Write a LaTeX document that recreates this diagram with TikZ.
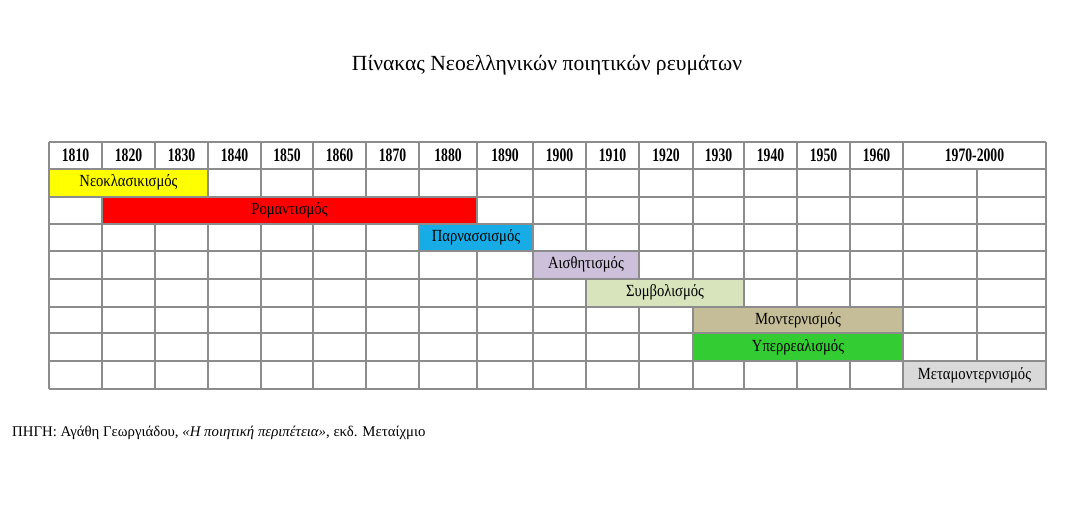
\documentclass[tikz,border=0pt]{standalone}
\usepackage{fontspec}
\setmainfont{Liberation Serif}
\newfontfamily\headfont[FakeStretch=0.72]{Liberation Serif}
\newfontfamily\barfont[FakeStretch=0.86]{Liberation Serif}
\definecolor{gridgrey}{HTML}{8C8C8C}
\definecolor{neoyellow}{HTML}{FFFF00}
\definecolor{romred}{HTML}{FF0000}
\definecolor{parblue}{HTML}{18ACE6}
\definecolor{aislav}{HTML}{CCC0DA}
\definecolor{symgreen}{HTML}{D8E4BC}
\definecolor{modtan}{HTML}{C4BD97}
\definecolor{surgreen}{HTML}{33CC33}
\definecolor{metagrey}{HTML}{D9D9D9}
\newcommand{\movement}[7]{%
  \node[bar, fill=#6, minimum width={(#3-#2)*1pt}, minimum height={(#5-#4)*1pt}]
    (#1) at ({(#2+#3)/2},{(#4+#5)/2}) {#7};}
\begin{document}
\begin{tikzpicture}[x=1pt, y=-1pt,
    gridline/.style={draw=gridgrey, line width=1.3pt},
    year/.style={font=\headfont\bfseries\fontsize{19}{22}\selectfont, inner sep=0pt},
    bar/.style={draw=gridgrey, line width=1.3pt, inner sep=0pt,
        text height=12pt, text depth=4pt, font=\barfont\fontsize{17}{20}\selectfont}
]
\useasboundingbox (0,0) rectangle (1078,510);
\node[font=\fontsize{21.6}{25}\selectfont, anchor=base] (title) at (547,71)
    {Πίνακας Νεοελληνικών ποιητικών ρευμάτων};
% table grid
\foreach \y in {142,169,197,224,251,279,307,333,361,389}
    \draw[gridline] (49,\y) -- (1046,\y);
\foreach \x in {49,102,155,208,261,313,366,419,477,533,586,639,693,744,797,850,903,1046}
    \draw[gridline] (\x,142) -- (\x,389);
\draw[gridline] (977,169) -- (977,389);
% movements
\movement{neo}{49}{208}{169}{197}{neoyellow}{Νεοκλασικισμός}
\movement{rom}{102}{477}{197}{224}{romred}{Ρομαντισμός}
\movement{par}{419}{533}{224}{251}{parblue}{Παρνασσισμός}
\movement{ais}{533}{639}{251}{279}{aislav}{Αισθητισμός}
\movement{sym}{586}{744}{279}{307}{symgreen}{Συμβολισμός}
\movement{mod}{693}{903}{307}{333}{modtan}{Μοντερνισμός}
\movement{sur}{693}{903}{333}{361}{surgreen}{Υπερρεαλισμός}
\movement{meta}{903}{1046}{361}{389}{metagrey}{Μεταμοντερνισμός}
% years
\foreach \a/\b/\yr [count=\i] in {49/102/1810,102/155/1820,155/208/1830,208/261/1840,
        261/313/1850,313/366/1860,366/419/1870,419/477/1880,477/533/1890,533/586/1900,
        586/639/1910,639/693/1920,693/744/1930,744/797/1940,797/850/1950,850/903/1960,
        903/1046/1970-2000}
    \node[year] (year\i) at ({(\a+\b)/2},155.5) {\yr};
\node[font=\fontsize{14.8}{18}\selectfont, anchor=base west, inner sep=0pt] (source) at (12,436)
    {ΠΗΓΗ: Αγάθη Γεωργιάδου, \textit{«Η ποιητική περιπέτεια»}, εκδ. Μεταίχμιο};
\end{tikzpicture}
\end{document}
